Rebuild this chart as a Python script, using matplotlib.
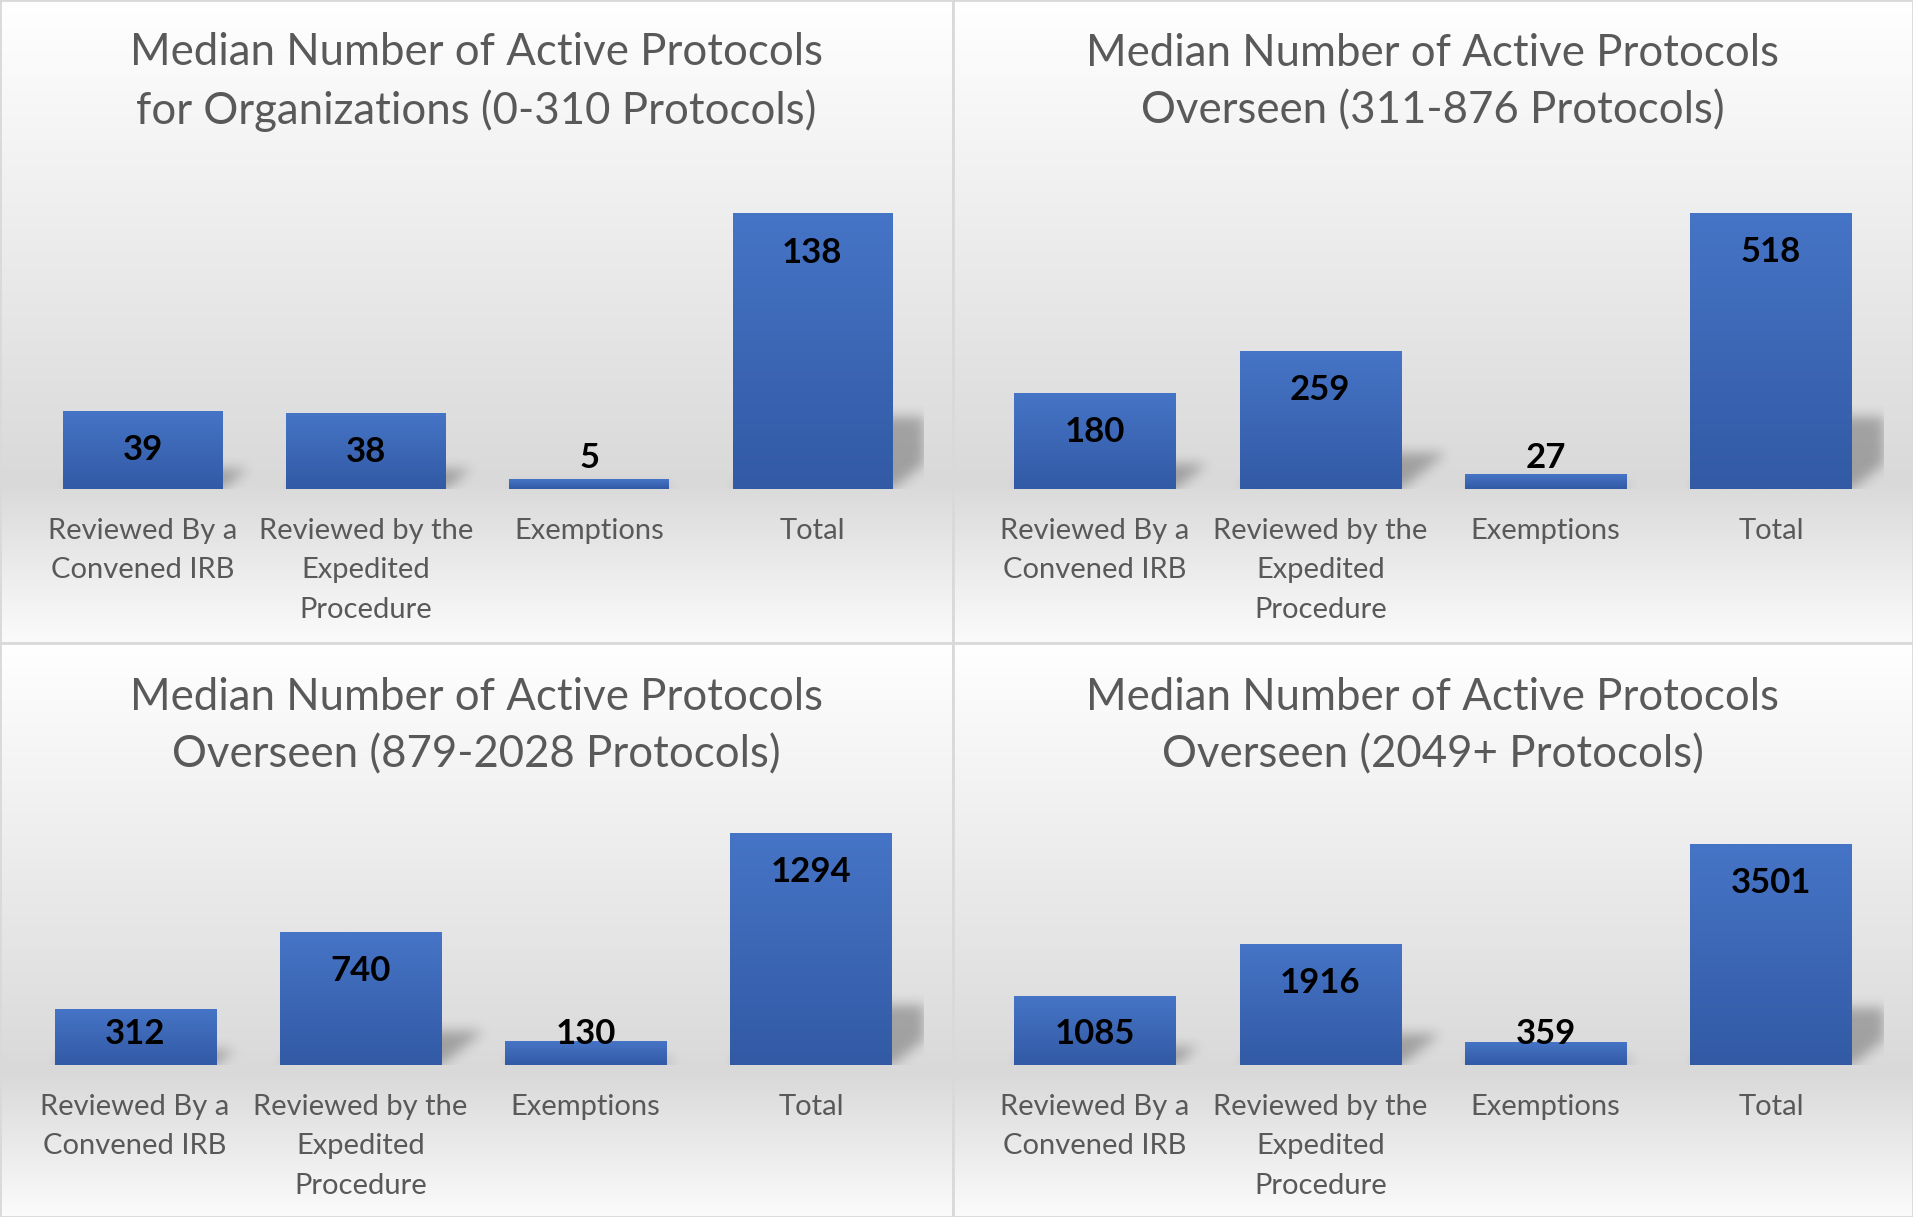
import numpy as np
import matplotlib.pyplot as plt
from matplotlib.patches import Rectangle
from matplotlib.colors import LinearSegmentedColormap

plt.rcParams['font.family'] = ['Lato', 'DejaVu Sans']

categories = ["Reviewed By a\nConvened IRB", "Reviewed by the\nExpedited\nProcedure",
              "Exemptions", "Total"]
titles = [
    "Median Number of Active Protocols\nfor Organizations (0-310 Protocols)",
    "Median Number of Active Protocols\nOverseen (311-876 Protocols)",
    "Median Number of Active Protocols\nOverseen (879-2028 Protocols)",
    "Median Number of Active Protocols\nOverseen (2049+ Protocols)",
]
medians_0_310 = [39, 38, 5, 138]
medians_311_876 = [180, 259, 27, 518]
medians_879_2028 = [312, 740, 130, 1294]
medians_2049_plus = [1085, 1916, 359, 3501]
axis_max = [160, 600, 1400, 4000]

series = [medians_0_310, medians_311_876, medians_879_2028, medians_2049_plus]

W, H = 1913, 1217
# panel boxes (x0, y0, x1, y1) in pixels from top-left
panels = [(0, 0, 953, 643), (953, 0, 1913, 643), (0, 643, 953, 1217), (953, 643, 1913, 1217)]
# plot areas (x0, x1, top, base)
plots = [(31, 924, 169.6, 489), (982.3, 1883.6, 169.6, 489),
         (22.4, 923.6, 814, 1065), (982.3, 1883.6, 813, 1065)]
title_y = [82, 82, 726, 726]

text_grey = '#595959'
bg_cmap = LinearSegmentedColormap.from_list(
    'bg', [(0.0, '#ffffff'), (0.75, '#d9d9d9'), (1.0, '#fbfbfb')])
bar_cmap = LinearSegmentedColormap.from_list('bar', ['#325aa5', '#4674c6'])

fig = plt.figure(figsize=(W / 100, H / 100), dpi=100)
fig.patch.set_facecolor('white')


def px_axes(x0, y0, x1, y1):
    return fig.add_axes([x0 / W, 1 - y1 / H, (x1 - x0) / W, (y1 - y0) / H])


def blur(a, sigma):
    k = np.arange(-3 * sigma, 3 * sigma + 1)
    k = np.exp(-k ** 2 / (2.0 * sigma ** 2))
    k /= k.sum()
    a = np.apply_along_axis(lambda r: np.convolve(r, k, mode='same'), 0, a)
    a = np.apply_along_axis(lambda r: np.convolve(r, k, mode='same'), 1, a)
    return a


for i in range(4):
    # panel background with vertical gradient
    px0, py0, px1, py1 = panels[i]
    bg = px_axes(px0, py0, px1, py1)
    grad = np.linspace(0, 1, 256)[:, None]
    bg.imshow(grad, cmap=bg_cmap, extent=[0, 1, 0, 1], aspect='auto', origin='upper')
    bg.add_patch(Rectangle((0, 0), 1, 1, transform=bg.transAxes, fill=False,
                           edgecolor='#d9d9d9', linewidth=2.0, clip_on=False))
    bg.set_axis_off()
    bg.text(0.5, 1 - (title_y[i] - py0) / (py1 - py0), titles[i], transform=bg.transAxes,
            ha='center', va='center', fontsize=31.5, color=text_grey, linespacing=1.48)

    # plot area
    x0, x1, top, base = plots[i]
    ax = px_axes(x0, top, x1, base)
    ax.patch.set_alpha(0)
    vals = series[i]
    ymax = axis_max[i]
    ncat = len(categories)
    x = np.arange(ncat)
    bars = ax.bar(x, vals, width=0.715, color='#3c66b6', zorder=3)

    wpx, hpx_ax = int(round(x1 - x0)), int(round(base - top))
    ppx = (x1 - x0) / ncat
    ppy = (base - top) / ymax
    gx = np.arange(wpx) + 0.5
    gy = np.arange(hpx_ax) + 0.5
    GX, GY = np.meshgrid(gx, gy)
    mask = np.zeros((hpx_ax, wpx))
    for b in bars:
        bx0 = b.get_x()
        bx1 = bx0 + b.get_width()
        h = b.get_height()
        # gradient fill
        ax.imshow(np.linspace(1, 0, 128)[:, None], cmap=bar_cmap, extent=[bx0, bx1, 0, h],
                  aspect='auto', origin='upper', zorder=4, interpolation='bilinear')
        # perspective shadow footprint (pixels)
        p0 = (bx0 + 0.5) * ppx
        p1 = (bx1 + 0.5) * ppx
        sh = 0.26 * h * ppy
        inside = (GY <= sh) & (GX >= p0 + 1.25 * GY) & (GX <= p1 + 1.25 * GY)
        mask[inside] = 1.0
        # value label
        ly = max(h - 39 / ppy, 31.5 / ppy)
        ax.text(b.get_x() + b.get_width() / 2, ly, f"{h:g}", ha='center', va='center',
                fontsize=25, fontweight='bold', color='black', zorder=5)

    mask = blur(mask, 6)
    shadow = np.zeros((hpx_ax, wpx, 4))
    shadow[..., 3] = 0.27 * mask
    ax.imshow(shadow, extent=[-0.5, ncat - 0.5, 0, ymax], origin='lower', aspect='auto',
              zorder=2, interpolation='bilinear')

    ax.set_xlim(-0.5, ncat - 0.5)
    ax.set_ylim(0, ymax)
    ax.set_xticks(x, categories)
    ax.tick_params(axis='x', length=0, pad=21, labelsize=21, labelcolor=text_grey)
    for lab in ax.get_xticklabels():
        lab.set_linespacing(1.63)
    ax.set_yticks([])
    for s in ax.spines.values():
        s.set_visible(False)

fig.savefig('out.png', dpi=100)
